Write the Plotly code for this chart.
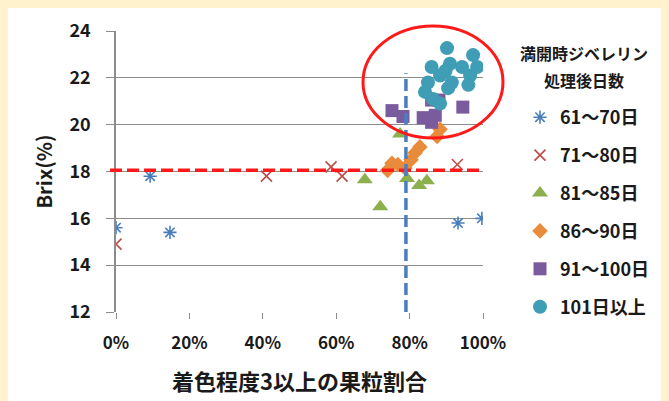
import plotly.graph_objects as go

FONT = "Noto Sans CJK JP"

# ---- data (x: fraction of berries with colour >=3, y: Brix %) ----
g1_name = "61～70日"
g1_x = [0.0, 0.093, 0.147, 0.932, 0.997]
g1_y = [15.6, 17.8, 15.4, 15.8, 16.0]

g2_name = "71～80日"
g2_x = [0.0, 0.41, 0.586, 0.616, 0.93]
g2_y = [14.9, 17.8, 18.2, 17.8, 18.3]

g3_name = "81～85日"
g3_x = [0.678, 0.72, 0.774, 0.793, 0.826, 0.847]
g3_y = [17.65, 16.5, 19.6, 17.7, 17.4, 17.6]

g4_name = "86～90日"
g4_x = [0.74, 0.752, 0.768, 0.787, 0.804, 0.815, 0.828, 0.875, 0.883]
g4_y = [18.05, 18.35, 18.3, 18.15, 18.5, 18.8, 19.05, 19.5, 19.8]

g5_name = "91～100日"
g5_x = [0.752, 0.782, 0.837, 0.86, 0.86, 0.88, 0.87, 0.945]
g5_y = [20.6, 20.35, 20.3, 20.1, 21.05, 21.05, 20.4, 20.75]

g6_name = "101日以上"
g6_x = [0.902, 0.973, 0.86, 0.91, 0.943, 0.984, 0.965, 0.883, 0.915,
        0.85, 0.96, 0.905, 0.842, 0.864, 0.883, 0.898]
g6_y = [23.27, 22.97, 22.46, 22.6, 22.46, 22.46, 22.1, 22.1, 21.8,
        21.8, 21.7, 21.56, 21.4, 21.1, 20.9, 22.3]

legend_title_lines = ["満開時ジベレリン", "処理後日数"]
brix_threshold = 18.05
colour_threshold = 0.79
x_ticks = [0, 0.2, 0.4, 0.6, 0.8, 1.0]
x_tick_labels = ["0%", "20%", "40%", "60%", "80%", "100%"]
y_ticks = [12, 14, 16, 18, 20, 22, 24]

series = [
    (g1_name, g1_x, g1_y, "asterisk-open", "#4A7EBB", 11),
    (g2_name, g2_x, g2_y, "x-thin-open", "#BE4B48", 11),
    (g3_name, g3_x, g3_y, "triangle-up", "#8DB04E", 14),
    (g4_name, g4_x, g4_y, "diamond", "#E88C3C", 12),
    (g5_name, g5_x, g5_y, "square", "#7A5C9E", 13),
    (g6_name, g6_x, g6_y, "circle", "#3F9DB6", 14),
]

fig = go.Figure()
for i, (name, xs, ys, sym, col, size) in enumerate(series):
    if sym.endswith("open"):
        marker = dict(symbol=sym, size=size, color=col, line=dict(color=col, width=1.6))
    else:
        marker = dict(symbol=sym, size=size, color=col, line=dict(width=0))
    fig.add_trace(go.Scatter(x=xs, y=ys, mode="markers", name=name, marker=marker,
                             legendgroup=f"g{i}"))

# The page body has an 8px margin, so the figure sits 8px right/down in the window.
OFF = 8
# plot area in window pixels: x 116..483, y 31..312
WL, WR, WT, WB = 116, 483, 31, 312
PW, PH = WR - WL, WB - WT
L, T = WL - OFF, WT - OFF
R = 669 - (WR - OFF)
B = 401 - (WB - OFF)

def px_x(p):  # window pixel -> paper x
    return (p - WL) / PW

def px_y(p):  # window pixel -> paper y
    return (WB - p) / PH

shapes = [
    # threshold lines
    dict(type="line", xref="paper", yref="y", x0=px_x(110), x1=1.0, y0=brix_threshold, y1=brix_threshold,
         line=dict(color="#FF1A1A", width=3.5, dash="12px,5px"), layer="above"),
    dict(type="line", xref="x", yref="y", x0=colour_threshold, x1=colour_threshold, y0=12, y1=22.2,
         line=dict(color="#4A7EC0", width=3.5, dash="12px,5px"), layer="above"),
    # red ellipse
    dict(type="circle", xref="paper", yref="paper", x0=px_x(363), x1=px_x(503), y0=px_y(138), y1=px_y(26),
         line=dict(color="#FF1A1A", width=3), fillcolor="rgba(0,0,0,0)", layer="above"),
]

annotations = [
    dict(xref="paper", yref="paper", x=px_x(584), y=px_y(53), text=legend_title_lines[0],
         showarrow=False, xanchor="center", yanchor="middle",
         font=dict(family=FONT, size=16, weight="bold", color="#1a1a1a")),
    dict(xref="paper", yref="paper", x=px_x(584), y=px_y(80), text=legend_title_lines[1],
         showarrow=False, xanchor="center", yanchor="middle",
         font=dict(family=FONT, size=16, weight="bold", color="#1a1a1a")),
]

fig.update_layout(
    width=669, height=401,
    margin=dict(l=L, r=R, t=T, b=B, autoexpand=False),
    paper_bgcolor="white", plot_bgcolor="white",
    font=dict(family=FONT, color="#1a1a1a"),
    shapes=shapes,
    annotations=annotations,
    showlegend=True,
    legend=dict(
        x=px_x(520), y=px_y(99), xanchor="left", yanchor="top",
        bgcolor="rgba(0,0,0,0)",
        font=dict(family=FONT, size=18, weight="bold", color="#1a1a1a"),
        tracegroupgap=11.5,
        itemwidth=30,
    ),
    xaxis=dict(
        range=[0, 1.0], tickvals=x_ticks, ticktext=x_tick_labels,
        showgrid=False, zeroline=False, automargin=True,
        showline=False, ticks="outside", ticklen=6, tickcolor="#8c8c8c",
        ticklabelstandoff=10,
        tickfont=dict(family=FONT, size=17, weight="bold", color="#1a1a1a"),
        title=dict(text="着色程度3以上の果粒割合", standoff=21,
                   font=dict(family=FONT, size=22, weight="bold", color="#1a1a1a")),
        fixedrange=True,
    ),
    yaxis=dict(
        range=[12, 24], tickvals=y_ticks, automargin=True,
        showgrid=True, gridcolor="#8c8c8c", gridwidth=1,
        zeroline=False, showline=True, linecolor="#8c8c8c", linewidth=1.5,
        ticks="outside", ticklen=8, tickcolor="#8c8c8c",
        ticklabelstandoff=12,
        tickfont=dict(family=FONT, size=18, weight="bold", color="#1a1a1a"),
        title=dict(text="Brix(%)", standoff=11,
                   font=dict(family=FONT, size=20, weight="bold", color="#1a1a1a")),
        fixedrange=True,
    ),
)

# cream page border (the page margin shows around the figure)
fig.write_html("out.html", post_script="document.body.style.background='#FFF2CC';")
